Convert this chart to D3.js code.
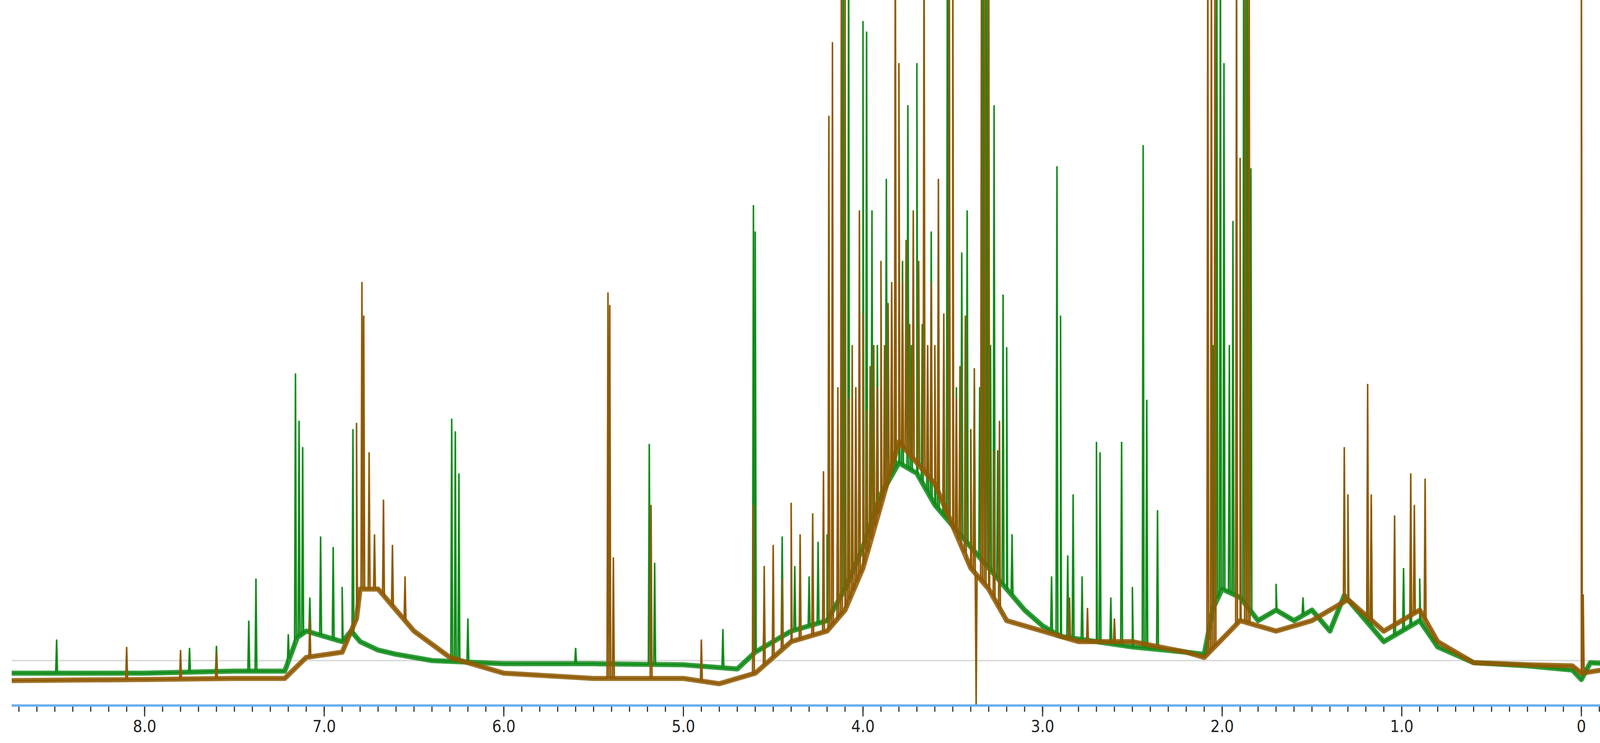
<!DOCTYPE html>
<html>
<head>
<meta charset="utf-8">
<script src="https://cdn.jsdelivr.net/npm/d3@7"></script>
<style>
  body { margin: 0; background: #fff; }
</style>
</head>
<body>
<svg id="nmr"></svg>
<script>
// envelope (ppm, height); height in picture units above the grey reference line
var greenBase = [[8.74,-12],[8.0,-12],[7.5,-10],[7.22,-10],[7.15,22],[7.1,28],[7.0,23],[6.9,18],[6.85,28],[6.8,18],[6.7,10],[6.6,6],[6.4,0],[6.0,-3],[5.5,-3],[5.0,-4],[4.7,-8],[4.6,8],[4.4,28],[4.2,38],[4.1,68],[4.0,108],[3.9,158],[3.8,188],[3.7,178],[3.6,148],[3.5,128],[3.4,108],[3.3,88],[3.2,68],[3.1,48],[3.0,33],[2.9,23],[2.7,18],[2.5,13],[2.2,8],[2.1,6],[2.05,50],[2.0,68],[1.9,60],[1.8,38],[1.7,48],[1.6,38],[1.5,48],[1.4,28],[1.32,62],[1.2,38],[1.1,18],[1.0,28],[0.9,38],[0.8,13],[0.6,-2],[0.3,-5],[0.05,-9],[0.0,-18],[-0.05,-2],[-0.38,-5]];
var brownBase = [[8.74,-19],[8.0,-18],[7.5,-17],[7.22,-17],[7.1,3],[6.9,8],[6.82,40],[6.8,68],[6.7,68],[6.6,48],[6.5,28],[6.3,3],[6.0,-12],[5.5,-17],[5.0,-17],[4.8,-22],[4.6,-12],[4.4,18],[4.2,28],[4.1,48],[4.0,88],[3.9,148],[3.8,208],[3.7,188],[3.6,168],[3.5,128],[3.4,88],[3.3,68],[3.2,38],[3.0,28],[2.8,18],[2.5,18],[2.2,8],[2.1,3],[1.9,38],[1.7,28],[1.5,38],[1.3,58],[1.1,28],[1.0,38],[0.9,48],[0.8,18],[0.6,-2],[0.3,-4],[0.05,-5],[0.0,-12],[-0.38,-2]];

// peaks (ppm, top height); heights above 640 run off the top of the picture
var greenPeaks = [[8.49,20],[7.75,12],[7.6,14],[7.42,38],[7.38,78],[7.2,25],[7.16,273],[7.14,228],[7.12,203],[7.08,60],[7.02,118],[6.95,108],[6.90,70],[6.84,220],[6.29,230],[6.27,218],[6.25,178],[6.20,40],[5.60,12],[5.19,206],[5.16,93],[4.78,30],[4.61,433],[4.60,408],[4.55,50],[4.45,118],[4.38,90],[4.30,80],[4.25,113],[4.20,120],[4.14,160],[4.11,700],[4.08,700],[4.04,250],[4.00,608],[3.98,598],[3.95,428],[3.92,300],[3.90,260],[3.87,458],[3.84,348],[3.82,280],[3.80,330],[3.78,380],[3.75,528],[3.73,300],[3.70,568],[3.67,320],[3.64,280],[3.62,408],[3.60,260],[3.58,300],[3.55,280],[3.53,700],[3.52,700],[3.48,260],[3.45,388],[3.42,428],[3.40,220],[3.38,260],[3.35,260],[3.33,700],[3.31,700],[3.29,300],[3.27,528],[3.25,200],[3.22,348],[3.20,298],[3.17,120],[2.95,80],[2.92,470],[2.90,328],[2.86,100],[2.83,158],[2.78,80],[2.70,208],[2.68,198],[2.62,60],[2.56,208],[2.50,70],[2.44,490],[2.42,248],[2.36,143],[2.05,300],[2.03,700],[2.01,700],[1.99,568],[1.96,300],[1.94,418],[1.92,350],[1.90,250],[1.88,700],[1.86,700],[1.84,468],[1.70,73],[1.55,60],[1.19,158],[1.17,148],[1.04,108],[0.99,88],[0.95,68],[0.90,78]];
var brownPeaks = [[8.10,13],[7.80,10],[7.60,8],[7.08,40],[6.82,226],[6.79,360],[6.78,328],[6.75,198],[6.72,120],[6.67,153],[6.62,110],[6.55,80],[5.42,350],[5.41,338],[5.39,98],[5.18,148],[4.90,20],[4.61,148],[4.55,90],[4.50,110],[4.45,78],[4.40,150],[4.35,120],[4.28,140],[4.22,180],[4.19,518],[4.17,588],[4.14,260],[4.12,700],[4.10,700],[4.08,250],[4.06,300],[4.04,260],[4.02,428],[4.00,330],[3.98,238],[3.96,280],[3.94,300],[3.92,260],[3.90,380],[3.88,300],[3.86,340],[3.84,360],[3.82,700],[3.80,568],[3.78,360],[3.76,400],[3.74,320],[3.72,428],[3.69,380],[3.66,700],[3.64,300],[3.62,360],[3.60,300],[3.58,458],[3.55,330],[3.52,700],[3.50,700],[3.48,250],[3.46,280],[3.43,328],[3.40,220],[3.38,278],[3.37,-42],[3.34,700],[3.32,700],[3.30,700],[3.27,200],[3.24,228],[2.85,60],[2.75,50],[2.60,40],[2.08,700],[2.06,700],[2.04,700],[1.92,700],[1.90,478],[1.87,700],[1.85,700],[1.32,203],[1.30,158],[1.19,263],[1.17,158],[1.04,138],[0.95,178],[0.93,148],[0.87,173],[0.00,700],[-0.01,63]];

var majorTicks = [8, 7, 6, 5, 4, 3, 2, 1, 0];
var tickLabels = ["8.0", "7.0", "6.0", "5.0", "4.0", "3.0", "2.0", "1.0", "0"];

var width = 4223, height = 1902;
var axisY = 1806;

var x = d3.scaleLinear().domain([8.74, -0.38]).range([30, 4223]);
var y = d3.scaleLinear().domain([0, 628]).range([1691, 0]);

var svg = d3.select("#nmr").attr("width", width).attr("height", height);

// grey reference line
svg.append("line")
    .attr("x1", 30).attr("x2", width)
    .attr("y1", y(0)).attr("y2", y(0))
    .attr("stroke", "#dcdcdc").attr("stroke-width", 4);

function trace(base, peaks) {
    var bx = base.map(d => d[0]).reverse(), by = base.map(d => d[1]).reverse();
    var foot = p => {
        var i = d3.bisectLeft(bx, p);
        if (i <= 0) return by[0];
        if (i >= bx.length) return by[by.length - 1];
        var t = (p - bx[i - 1]) / (bx[i] - bx[i - 1]);
        return by[i - 1] + t * (by[i] - by[i - 1]);
    };
    var pts = base.map(d => [d[0], d[1]]);
    peaks.forEach(p => {
        pts.push([p[0] + 0.005, foot(p[0] + 0.005)]);
        pts.push([p[0], p[1]]);
        pts.push([p[0] - 0.005, foot(p[0] - 0.005)]);
    });
    pts.sort((a, b) => b[0] - a[0]);
    return pts;
}

var line = d3.line().x(d => x(d[0])).y(d => y(d[1]));

svg.append("defs").append("clipPath").attr("id", "plot")
    .append("rect").attr("x", 0).attr("y", 0).attr("width", width).attr("height", axisY - 3);

var g = svg.append("g").attr("clip-path", "url(#plot)");

var series = [
    { base: greenBase, peaks: greenPeaks, color: "#118c1a" },
    { base: brownBase, peaks: brownPeaks, color: "#8f5a04" }
];

series.forEach(s => {
    // noise band along the baseline
    g.append("path")
        .attr("d", line(s.base))
        .attr("fill", "none").attr("stroke", s.color)
        .attr("stroke-width", 13).attr("stroke-linejoin", "round")
        .attr("stroke-opacity", 0.85);
    g.append("path")
        .attr("d", line(trace(s.base, s.peaks)))
        .attr("fill", "none").attr("stroke", s.color).attr("stroke-width", 4);
});

// axis
var axis = svg.append("g").attr("transform", "translate(0," + axisY + ")");

axis.append("line")
    .attr("x1", 30).attr("x2", width)
    .attr("stroke", "#6aaef2").attr("stroke-width", 6);

axis.selectAll(".minor")
    .data(d3.range(87, -4, -1).map(d => d / 10))
    .join("line")
    .attr("x1", d => x(d)).attr("x2", d => x(d))
    .attr("y1", 3).attr("y2", 16)
    .attr("stroke", "#333").attr("stroke-width", 3);

axis.selectAll(".major")
    .data(majorTicks)
    .join("line")
    .attr("x1", d => x(d)).attr("x2", d => x(d))
    .attr("y1", 3).attr("y2", 28)
    .attr("stroke", "#333").attr("stroke-width", 3);

axis.selectAll("text")
    .data(majorTicks)
    .join("text")
    .attr("x", d => x(d))
    .attr("y", 68)
    .attr("text-anchor", "middle")
    .attr("font-family", "'DejaVu Sans Condensed', 'Liberation Sans Narrow', sans-serif")
    .attr("font-size", 42)
    .attr("fill", "#222")
    .text((d, i) => tickLabels[i]);
</script>
</body>
</html>
